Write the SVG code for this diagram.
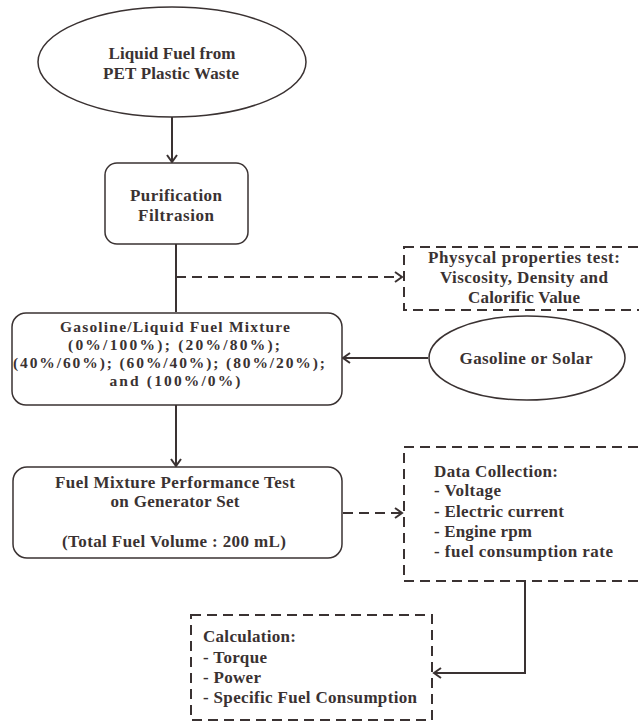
<svg xmlns="http://www.w3.org/2000/svg" width="639" height="725" viewBox="0 0 639 725">
<defs>
<style>
text{font-family:"Liberation Serif","DejaVu Serif",serif;font-weight:bold;font-size:17px;fill:#3a3232}
.c{text-anchor:middle}
.m{font-size:15.5px}
.node{fill:#fff;stroke:#3a3232;stroke-width:1.5}
.dash{fill:none;stroke:#3a3232;stroke-width:2;stroke-dasharray:10 6}
.line{fill:none;stroke:#3a3232;stroke-width:2}
</style>
<marker id="ah" markerWidth="12" markerHeight="12" refX="10" refY="6" orient="auto" markerUnits="userSpaceOnUse">
<path d="M3,1 L10,6 L3,11" fill="none" stroke="#3a3232" stroke-width="2"/>
</marker>
</defs>
<rect width="639" height="725" fill="#fff"/>
<g id="connectors">
<line class="line" x1="172" y1="117" x2="172" y2="162" marker-end="url(#ah)"/>
<line class="line" x1="176" y1="244" x2="176" y2="312"/>
<line class="dash" x1="176" y1="277" x2="402" y2="277" marker-end="url(#ah)"/>
<line class="line" x1="428" y1="358" x2="343" y2="358" marker-end="url(#ah)"/>
<line class="line" x1="176" y1="405" x2="176" y2="466" marker-end="url(#ah)"/>
<line class="dash" x1="343" y1="513" x2="402" y2="513" marker-end="url(#ah)"/>
<polyline class="line" points="525,581 525,673 434,673" marker-end="url(#ah)"/>
</g>
<g id="n-liquid">
<ellipse class="node" cx="172" cy="62" rx="134" ry="55"/>
<text class="c" x="172" y="59" textLength="127" lengthAdjust="spacing">Liquid Fuel from</text>
<text class="c" x="171" y="79" textLength="136" lengthAdjust="spacing">PET Plastic Waste</text>
</g>
<g id="n-purification">
<rect class="node" x="105" y="163" width="143" height="81" rx="12"/>
<text class="c" x="176" y="201" textLength="92" lengthAdjust="spacing">Purification</text>
<text class="c" x="176" y="221" textLength="76" lengthAdjust="spacing">Filtrasion</text>
</g>
<g id="n-physical">
<rect class="dash" x="404" y="247" width="250" height="63"/>
<text class="c" x="524" y="263" textLength="192" lengthAdjust="spacing">Physycal properties test:</text>
<text class="c" x="524" y="283" textLength="168" lengthAdjust="spacing">Viscosity, Density and</text>
<text class="c" x="524" y="303" textLength="112" lengthAdjust="spacing">Calorific Value</text>
</g>
<g id="n-mixture">
<rect class="node" x="12" y="313" width="330" height="92" rx="14"/>
<text class="c m" x="175" y="332" textLength="230" lengthAdjust="spacing">Gasoline/Liquid Fuel  Mixture</text>
<text class="c m" x="174" y="350" textLength="212" lengthAdjust="spacing">(0%/100%); (20%/80%);</text>
<text class="c m" x="169" y="368" textLength="312" lengthAdjust="spacing">(40%/60%); (60%/40%); (80%/20%);</text>
<text class="c m" x="175" y="386" textLength="131" lengthAdjust="spacing">and (100%/0%)</text>
</g>
<g id="n-gasoline">
<ellipse class="node" cx="527" cy="358" rx="98" ry="42"/>
<text class="c" x="526" y="364" textLength="133" lengthAdjust="spacing">Gasoline or Solar</text>
</g>
<g id="n-performance">
<rect class="node" x="13" y="467" width="329" height="91" rx="14"/>
<text class="c" x="175" y="488" textLength="240" lengthAdjust="spacing">Fuel Mixture Performance Test</text>
<text class="c" x="175" y="507" textLength="129" lengthAdjust="spacing">on Generator Set</text>
<text class="c" x="174" y="547" textLength="224" lengthAdjust="spacing">(Total Fuel Volume : 200 mL)</text>
</g>
<g id="n-data">
<rect class="dash" x="404" y="447" width="250" height="134"/>
<text x="434" y="477" textLength="124" lengthAdjust="spacing">Data Collection:</text>
<text x="434" y="496" textLength="67" lengthAdjust="spacing">- Voltage</text>
<text x="434" y="517" textLength="130" lengthAdjust="spacing">- Electric current</text>
<text x="434" y="537" textLength="98" lengthAdjust="spacing">- Engine rpm</text>
<text x="434" y="557" textLength="179" lengthAdjust="spacing">- fuel consumption rate</text>
</g>
<g id="n-calc">
<rect class="dash" x="191" y="615" width="241" height="105"/>
<text x="203" y="642" textLength="93" lengthAdjust="spacing">Calculation:</text>
<text x="203" y="663" textLength="64" lengthAdjust="spacing">- Torque</text>
<text x="203" y="683" textLength="58" lengthAdjust="spacing">- Power</text>
<text x="203" y="703" textLength="214" lengthAdjust="spacing">- Specific Fuel Consumption</text>
</g>
</svg>
